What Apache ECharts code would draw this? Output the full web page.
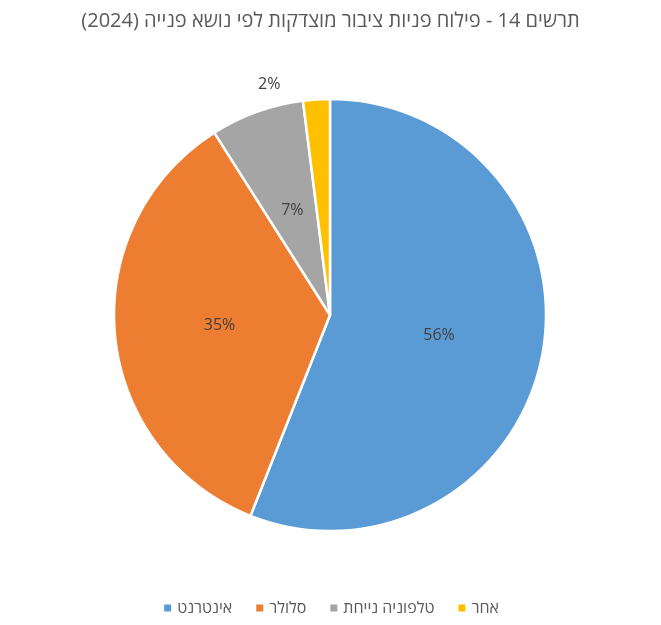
<!DOCTYPE html>
<html><head><meta charset="utf-8">
<script src="https://cdn.jsdelivr.net/npm/echarts@6/dist/echarts.min.js"></script>
<style>html,body{margin:0;padding:0;background:#fff}#c{width:661px;height:625px}</style>
</head><body><div id="c"></div>
<script>
const categories = ['אינטרנט', 'סלולר', 'טלפוניה נייחת', 'אחר'];
const values = [56, 35, 7, 2];
const colors = ['#5B9BD5', '#ED7D31', '#A5A5A5', '#FFC000'];
const chart = echarts.init(document.getElementById('c'));
chart.setOption({
  animation: false,
  title: { text: 'תרשים 14 - פילוח פניות ציבור מוצדקות לפי נושא פנייה (2024)', left: 'center', top: 6,
    textStyle: { fontFamily: 'Open Sans', fontSize: 20, fontWeight: 'normal', color: '#595959' } },
  legend: { bottom: 4, left: 'center', itemWidth: 9, itemHeight: 9, itemGap: 22, icon: 'rect',
    textStyle: { fontFamily: 'Open Sans', fontSize: 16, color: '#595959' }, data: categories },
  series: [{
    type: 'pie', center: [330, 315], radius: 216, startAngle: 90, clockwise: true,
    itemStyle: { borderColor: '#fff', borderWidth: 2.5 },
    label: { position: 'inner', formatter: '{d}%', fontFamily: 'Open Sans', fontSize: 16, color: '#404040' },
    labelLine: { show: false },
    data: categories.map((n, i) => {
      const d = { name: n, value: values[i], itemStyle: { color: colors[i] } };
      if (i === 3) d.label = { position: 'outside', distance: 4 };
      return d;
    })
  }]
});
</script></body></html>
